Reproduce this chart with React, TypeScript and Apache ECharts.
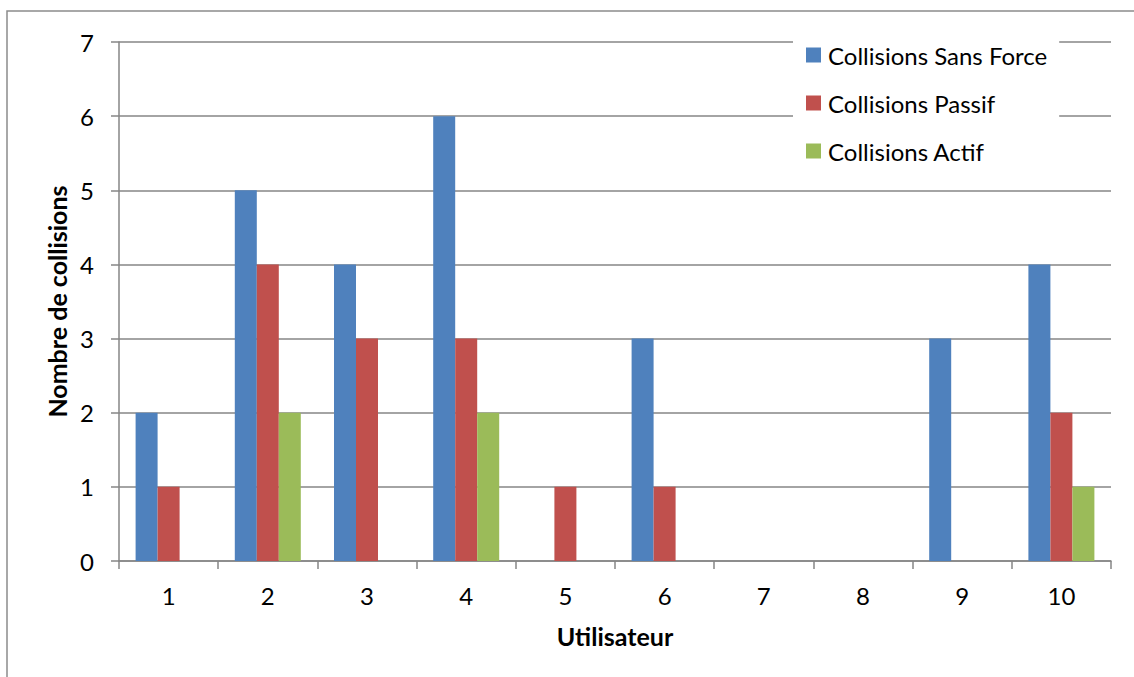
import React, { useEffect, useRef } from "react";
import * as echarts from "echarts";

const categories = ["1", "2", "3", "4", "5", "6", "7", "8", "9", "10"];
const sansForce = [2, 5, 4, 6, 0, 3, 0, 0, 3, 4];
const passif = [1, 4, 3, 3, 1, 1, 0, 0, 0, 2];
const actif = [0, 2, 0, 2, 0, 0, 0, 0, 0, 1];
const seriesNames = ["Collisions Sans Force", "Collisions Passif", "Collisions Actif"];
const colors = ["#4F81BD", "#C0504D", "#9BBB59"];

const FONT = "Lato";

export default function App() {
  const ref = useRef<HTMLDivElement>(null);
  useEffect(() => {
    document.body.style.margin = "0";
    const chart = echarts.init(ref.current!, null, { renderer: "svg" });
    const axisGray = "#868686";
    const data = [sansForce, passif, actif];
    chart.setOption({
      animation: false,
      backgroundColor: "#ffffff",
      textStyle: { fontFamily: FONT, color: "#000" },
      graphic: [
        {
          type: "rect",
          shape: { x: 7, y: 11, width: 1140, height: 700 },
          style: { fill: "none", stroke: "#8c8c8c", lineWidth: 1.5 },
          z: -1,
        },
      ],
      grid: { left: 119, right: 23, top: 42, bottom: 116 },
      legend: {
        orient: "vertical",
        left: 793,
        top: 35,
        padding: [8, 12, 10, 13],
        backgroundColor: "#ffffff",
        itemWidth: 15,
        itemHeight: 15,
        itemGap: 24,
        icon: "rect",
        z: 10,
        textStyle: { fontFamily: FONT, fontSize: 24, color: "#000", lineHeight: 24, padding: [0, 0, 0, 2] },
        data: seriesNames,
      },
      xAxis: {
        type: "category",
        data: categories,
        name: "Utilisateur",
        nameLocation: "middle",
        nameGap: 62,
        nameTextStyle: { fontFamily: FONT, fontSize: 25, fontWeight: "bold", color: "#000" },
        axisLine: { show: true, lineStyle: { color: axisGray, width: 1.5 } },
        axisTick: { show: true, length: 8, alignWithLabel: false, lineStyle: { color: axisGray, width: 1.5 } },
        axisLabel: { fontFamily: FONT, fontSize: 24, color: "#000", margin: 22 },
        splitLine: { show: false },
      },
      yAxis: {
        type: "value",
        min: 0,
        max: 7,
        interval: 1,
        name: "Nombre de collisions",
        nameLocation: "middle",
        nameRotate: 90,
        nameGap: 48,
        nameTextStyle: { fontFamily: FONT, fontSize: 25, fontWeight: "bold", color: "#000" },
        axisLine: { show: true, lineStyle: { color: axisGray, width: 1.5 } },
        axisTick: { show: true, length: 8, inside: false, lineStyle: { color: axisGray, width: 1.5 } },
        axisLabel: { fontFamily: FONT, fontSize: 24, color: "#000", margin: 25 },
        splitLine: { show: true, lineStyle: { color: axisGray, width: 1.5 } },
      },
      series: data.map((d, i) => ({
        name: seriesNames[i],
        type: "bar",
        data: d,
        barWidth: 22,
        barGap: "0%",
        itemStyle: { color: colors[i] },
      })),
    });
    return () => chart.dispose();
  }, []);
  return <div ref={ref} style={{ width: 1134, height: 677 }} />;
}
